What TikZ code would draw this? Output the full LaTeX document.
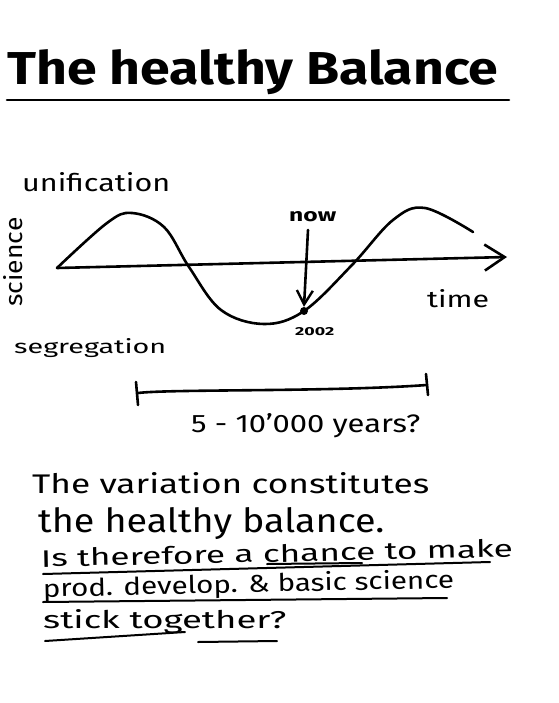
\documentclass[tikz,border=0pt]{standalone}
\usepackage{fontspec}
\setmainfont{Fira Sans}
\usepackage{graphicx}
\usetikzlibrary{arrows.meta}
\begin{document}
\begin{tikzpicture}[x=1pt,y=-1pt,
  ink/.style={line width=2.6pt, line cap=round, line join=round},
  uline/.style={line width=2pt, line cap=round},
  hand/.style={inner sep=0pt, anchor=base west},
  bigbarb/.style={-{Straight Barb[length=20pt,width=26pt,line width=2.6pt]}},
  smallbarb/.style={-{Straight Barb[length=14pt,width=16pt,line width=2.4pt]}}]
\useasboundingbox (0,0) rectangle (558,703);
\fill[white] (0,0) rectangle (558,703);

% title
\node[hand] (title) at (7,85) {\resizebox{491pt}{35pt}{\bfseries The healthy Balance}};
\coordinate (tl) at (7,100);
\coordinate (tr) at (509,100);
\draw[ink] (tl) -- (tr);

% axis labels
\node[hand] (unif) at (22,192) {\resizebox{148pt}{19pt}{unification}};
\node[hand] (segr) at (14,353) {\resizebox{152pt}{15pt}{segregation}};
\node[inner sep=0pt, anchor=base, rotate=90] (sci) at (22,262) {\resizebox{89pt}{19pt}{science}};
\node[hand] (time) at (427,307) {\resizebox{62pt}{18pt}{time}};

% axis
\coordinate (o) at (57,268);
\coordinate (tip) at (507,257);
\draw[ink, bigbarb] (o) -- (tip);

% wave
\draw[ink] plot[smooth, tension=0.6] coordinates {(57,268) (107,223) (132,213) (164,227) (189,267) (221,310) (264,324) (304,311) (352,265) (393,220) (425,208) (473,232)};

% now marker
\node[hand] (now) at (289,221) {\resizebox{47pt}{10pt}{\bfseries now}};
\node[circle, fill=black, inner sep=0pt, minimum size=8pt] (dot) at (304,311) {};
\draw[ink, smallbarb] (308,230) -- (dot.north);
\node[hand] (year) at (295,335) {\resizebox{39pt}{8pt}{\bfseries 2002}};

% span bracket
\coordinate (bl) at (138,393);
\coordinate (br) at (427,385);
\draw[ink] (bl) .. controls (170,389) and (330,392) .. (br);
\draw[ink] (136,382) -- (138,405);
\draw[ink] (426,374) -- (428,395);
\node[hand] (span) at (191,432) {\resizebox{229pt}{19pt}{5 - 10'000 years?}};

% text block
\node[hand] (l1) at (32,493) {\resizebox{397pt}{21pt}{The variation constitutes}};
\node[hand] (l2) at (38,532) {\resizebox{346pt}{25pt}{the healthy balance.}};
\node[hand, rotate=1.2] (l3) at (41,567) {\resizebox{472pt}{18pt}{Is therefore a chance to make}};
\node[hand, rotate=1.25] (l4) at (43,597) {\resizebox{411pt}{19pt}{prod. develop. \& basic science}};
\node[hand] (l5) at (43,628) {\resizebox{243pt}{19pt}{stick together?}};

\draw[uline] (267,564) -- (362,563);
\draw[uline] (43,574) -- (490,562);
\draw[uline] (43,602) -- (447,598);
\draw[uline] (45,641) -- (185,632);
\draw[uline] (198,642) -- (277,641);
\end{tikzpicture}
\end{document}
